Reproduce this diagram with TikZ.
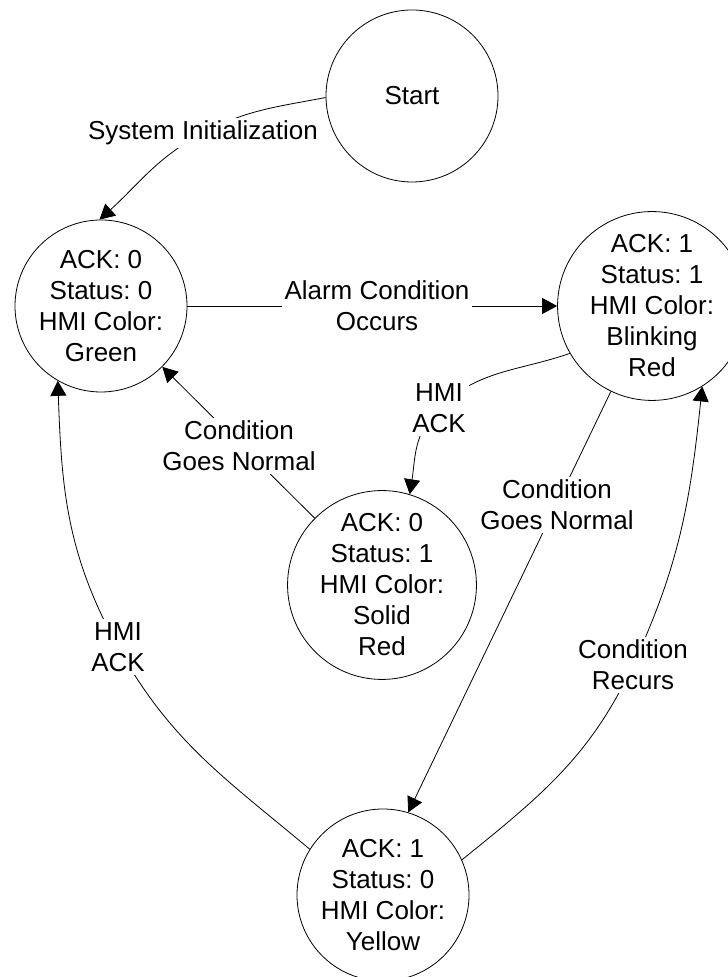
\documentclass[tikz,border=0pt]{standalone}
\usepackage{fontspec}
\setmainfont{Liberation Sans}
\usetikzlibrary{arrows.meta,backgrounds}
\frenchspacing
\begin{document}
\begin{tikzpicture}[x=1pt,y=1pt,
  state/.style={circle,draw,line width=0.8pt,minimum size=172pt,inner sep=0pt,align=center,font=\fontsize{26}{31}\selectfont},
  lbl/.style={fill=white,inner sep=3pt,align=center,font=\fontsize{26}{31}\selectfont},
  conn/.style={line width=0.8pt,-{Triangle[length=15pt,width=16pt]}}]
\useasboundingbox (0,0) rectangle (728,977);
% states
\node[state] (start)  at (412,881) {Start};
\node[state] (green)  at (101,671) {ACK: 0\\Status: 0\\HMI Color:\\Green};
\node[state] (blink)  at (652,671) {ACK: 1\\Status: 1\\HMI Color:\\Blinking\\Red};
\node[state] (solid)  at (382,392) {ACK: 0\\Status: 1\\HMI Color:\\Solid\\Red};
\node[state] (yellow) at (383,82)  {ACK: 1\\Status: 0\\HMI Color:\\Yellow};
% labels
\node[lbl] (l1) at (203,844) {System Initialization};
\node[lbl] (l2) at (377,671) {Alarm Condition\\Occurs};
\node[lbl] (l3) at (439,569) {HMI\\ACK};
\node[lbl] (l4) at (239,531) {Condition\\Goes Normal};
\node[lbl] (l5) at (557,472) {Condition\\Goes Normal};
\node[lbl] (l6) at (633,312) {Condition\\Recurs};
\node[lbl] (l7) at (118,330) {HMI\\ACK};
% connectors
\begin{scope}[on background layer]
\draw[conn] (start.181) to[out=191,in=28] (l1.center) to[out=208,in=42] (green.91);
\draw[conn] (green) -- (blink);
\draw[conn] (blink.210) to[out=199,in=44] (l3.center) to[out=224,in=81] (solid.73);
\draw[conn] (solid) -- (green);
\draw[conn] (blink) -- (yellow.73);
\draw[conn] (yellow.24) to[out=39,in=245] (l6.center) to[out=65,in=264] (blink.302);
\draw[conn] (yellow.148) to[out=140,in=299] (l7.center) to[out=119,in=272] (green.240);
\end{scope}
\end{tikzpicture}
\end{document}
